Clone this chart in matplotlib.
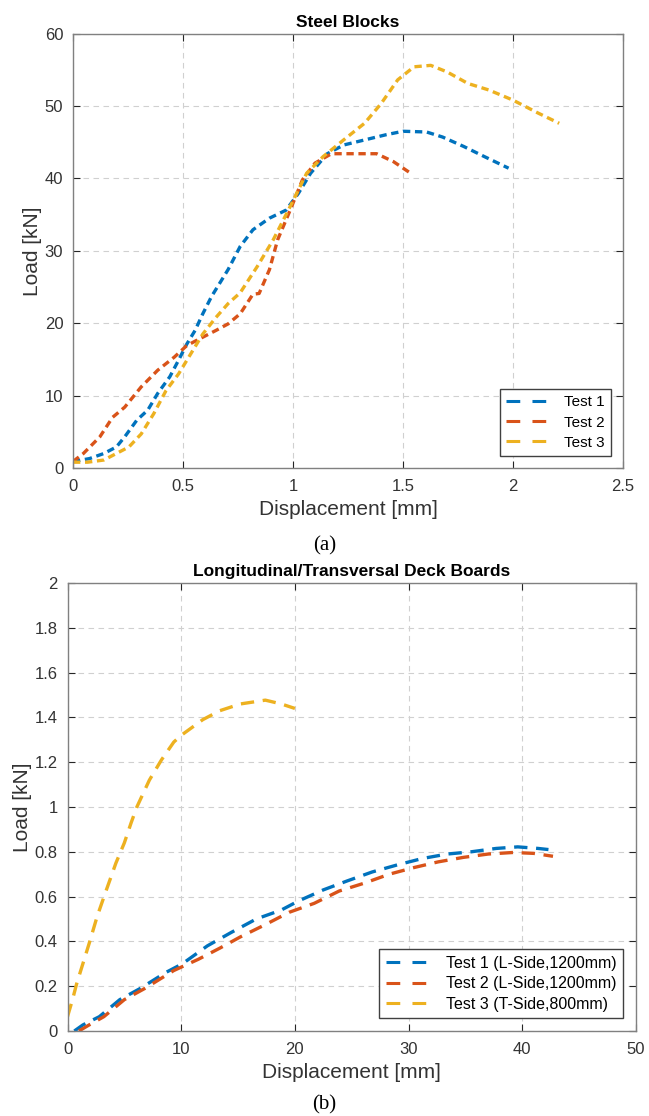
import matplotlib
matplotlib.use("Agg")
import matplotlib.pyplot as plt

# (a) Steel blocks: displacement [mm] vs load [kN]
STEEL_T1_X = [0.0, 0.075, 0.14, 0.197, 0.235, 0.29, 0.34, 0.385, 0.44, 0.48, 0.517, 0.555,
              0.59, 0.63, 0.705, 0.76, 0.818, 0.893, 0.968, 1.024, 1.08, 1.156, 1.23, 1.325,
              1.42, 1.50, 1.607, 1.68, 1.776, 1.87, 1.98]
STEEL_T1_Y = [0.9, 1.3, 2.0, 2.9, 4.3, 6.6, 8.0, 10.3, 12.6, 14.9, 17.1, 19.0,
              21.3, 23.7, 27.4, 30.6, 32.9, 34.5, 35.6, 37.9, 40.7, 43.4, 44.6, 45.3,
              46.0, 46.5, 46.4, 45.7, 44.4, 43.0, 41.4]

STEEL_T2_X = [0.0, 0.047, 0.122, 0.18, 0.235, 0.31, 0.385, 0.46, 0.517, 0.573, 0.65, 0.705,
              0.76, 0.818, 0.846, 0.893, 0.93, 0.987, 1.043, 1.10, 1.175, 1.27, 1.38, 1.457, 1.53]
STEEL_T2_Y = [0.9, 2.0, 4.3, 7.0, 8.4, 11.2, 13.5, 15.3, 16.9, 17.8, 19.0, 19.9,
              21.3, 24.0, 24.1, 27.4, 31.5, 35.6, 39.8, 42.1, 43.4, 43.4, 43.4, 42.3, 40.8]

STEEL_T3_X = [0.0, 0.066, 0.14, 0.197, 0.254, 0.31, 0.367, 0.423, 0.48, 0.536, 0.59, 0.65,
              0.705, 0.76, 0.837, 0.91, 0.987, 1.062, 1.137, 1.23, 1.325, 1.40, 1.476, 1.55,
              1.626, 1.70, 1.795, 1.89, 2.0, 2.115, 2.21]
STEEL_T3_Y = [0.8, 0.8, 1.1, 2.0, 2.9, 4.7, 7.5, 10.7, 13.0, 15.8, 18.5, 20.8,
              22.7, 24.2, 27.8, 31.5, 36.1, 40.7, 43.0, 45.3, 47.6, 50.3, 53.6, 55.4,
              55.6, 54.7, 53.1, 52.2, 50.8, 49.0, 47.6]

STEEL_LABELS = ["Test 1", "Test 2", "Test 3"]

# (b) Longitudinal/transversal deck boards: displacement [mm] vs load [kN]
DECK_T1_X = [0.6, 1.35, 2.8, 4.6, 6.4, 8.6, 10.1, 12.3, 14.4, 16.6, 18.8, 20.3, 22.5, 24.6,
             26.8, 28.9, 31.2, 33.4, 35.5, 37.7, 39.6, 41.4, 42.3]
DECK_T1_Y = [0.0, 0.027, 0.064, 0.14, 0.19, 0.26, 0.30, 0.38, 0.44, 0.50, 0.54, 0.58, 0.63, 0.67,
             0.71, 0.74, 0.77, 0.79, 0.80, 0.815, 0.822, 0.815, 0.81]

DECK_T2_X = [1.0, 1.9, 3.2, 5.0, 6.8, 9.35, 11.5, 13.4, 15.2, 17.4, 19.5, 21.7, 23.9, 26.1,
             28.3, 30.5, 32.6, 34.8, 37.0, 39.2, 41.0, 42.7]
DECK_T2_Y = [0.0, 0.027, 0.064, 0.14, 0.19, 0.27, 0.32, 0.37, 0.42, 0.475, 0.53, 0.57, 0.625, 0.66,
             0.70, 0.73, 0.755, 0.775, 0.79, 0.797, 0.793, 0.78]

DECK_T3_X = [0.0, 0.44, 0.8, 1.35, 1.9, 2.6, 3.35, 4.26, 5.0, 5.6, 6.1, 7.2, 8.26, 9.35,
             10.0, 11.9, 13.4, 15.2, 17.4, 18.8, 20.0]
DECK_T3_Y = [0.064, 0.14, 0.21, 0.30, 0.39, 0.51, 0.62, 0.75, 0.84, 0.93, 1.0, 1.12, 1.21, 1.29,
             1.32, 1.39, 1.43, 1.46, 1.477, 1.46, 1.44]

DECK_LABELS = ["Test 1 (L-Side,1200mm)", "Test 2 (L-Side,1200mm)", "Test 3 (T-Side,800mm)"]

COLORS = ["#0072BD", "#D95319", "#EDB120"]
AX_GRAY = "#262626"

plt.rcParams["font.family"] = ["Liberation Sans", "DejaVu Sans"]


def style_axes(ax):
    ax.grid(True, ls=(0, (5, 4)), color="#d0d0d0", lw=0.8)
    ax.set_axisbelow(True)
    ax.tick_params(direction="in", length=5, width=0.8, top=True, right=True,
                   labelsize=12, colors=AX_GRAY, labelcolor="#333333")
    ax.tick_params(axis="x", pad=8)
    ax.tick_params(axis="y", pad=7)
    for sp in ax.spines.values():
        sp.set_color("#808080")
        sp.set_linewidth(1.0)


def main():
    fig = plt.figure(figsize=(6.49, 11.16), dpi=100)

    # --- (a) ---
    ax1 = fig.add_axes([73 / 649, 1 - 468 / 1116, 550 / 649, 434.5 / 1116])
    series = [(STEEL_T1_X, STEEL_T1_Y), (STEEL_T2_X, STEEL_T2_Y), (STEEL_T3_X, STEEL_T3_Y)]
    for (xs, ys), c, lab in zip(series, COLORS, STEEL_LABELS):
        ax1.plot(xs, ys, ls=(0, (2.2, 1.4)), lw=2.4, color=c, label=lab)
    ax1.set_xlim(0, 2.5)
    ax1.set_ylim(0, 60)
    ax1.set_xticks([0, 0.5, 1, 1.5, 2, 2.5])
    ax1.set_xticklabels(["0", "0.5", "1", "1.5", "2", "2.5"])
    ax1.set_yticks(range(0, 61, 10))
    style_axes(ax1)
    ax1.set_title("Steel Blocks", fontsize=12.5, fontweight="bold", pad=5)
    ax1.set_xlabel("Displacement [mm]", fontsize=15, color="#333333", labelpad=4)
    ax1.set_ylabel("Load [kN]", fontsize=15, color="#333333", labelpad=2)
    leg = ax1.legend(loc="lower right", fontsize=11, handlelength=2.8, handletextpad=1.0,
                     borderaxespad=0.8, fancybox=False, framealpha=1, labelspacing=0.4)
    leg.get_frame().set_edgecolor("#404040")
    for h in leg.get_lines():
        h.set_linestyle((0, (4.5, 4)))
        h.set_linewidth(2.2)

    fig.text(0.5, 1 - 546 / 1116, "(a)", ha="center", va="center", fontsize=15,
             family=["Liberation Serif", "DejaVu Serif"])

    # --- (b) ---
    ax2 = fig.add_axes([67.5 / 649, 1 - 1031 / 1116, 568.5 / 649, 448 / 1116])
    series = [(DECK_T1_X, DECK_T1_Y), (DECK_T2_X, DECK_T2_Y), (DECK_T3_X, DECK_T3_Y)]
    for (xs, ys), c, lab in zip(series, COLORS, DECK_LABELS):
        ax2.plot(xs, ys, ls=(0, (4, 2.6)), lw=2.4, color=c, label=lab)
    ax2.set_xlim(0, 50)
    ax2.set_ylim(0, 2)
    ax2.set_xticks(range(0, 51, 10))
    ax2.set_yticks([0, 0.2, 0.4, 0.6, 0.8, 1, 1.2, 1.4, 1.6, 1.8, 2])
    ax2.set_yticklabels(["0", "0.2", "0.4", "0.6", "0.8", "1", "1.2", "1.4", "1.6", "1.8", "2"])
    style_axes(ax2)
    ax2.set_title("Longitudinal/Transversal Deck Boards", fontsize=12.5, fontweight="bold", pad=5)
    ax2.set_xlabel("Displacement [mm]", fontsize=15, color="#333333", labelpad=4)
    ax2.set_ylabel("Load [kN]", fontsize=15, color="#333333", labelpad=2)
    leg = ax2.legend(loc="lower right", fontsize=11.5, handlelength=2.8, handletextpad=1.0,
                     borderaxespad=0.8, fancybox=False, framealpha=1, labelspacing=0.35)
    leg.get_frame().set_edgecolor("#404040")
    for h in leg.get_lines():
        h.set_linestyle((0, (4.5, 4)))
        h.set_linewidth(2.2)

    fig.text(0.5, 1 - 1105 / 1116, "(b)", ha="center", va="center", fontsize=15,
             family=["Liberation Serif", "DejaVu Serif"])

    fig.savefig("out.png", dpi=100)
    plt.close(fig)


if __name__ == "__main__":
    main()
